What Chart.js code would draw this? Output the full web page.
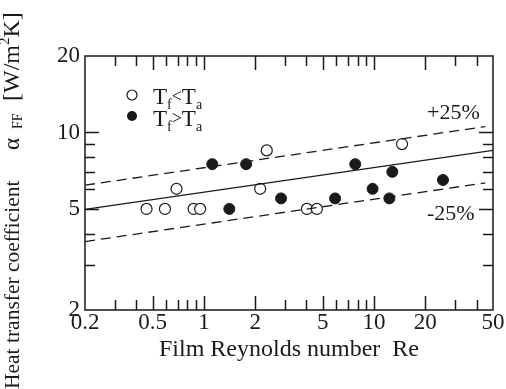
<!DOCTYPE html>
<html>
<head>
<meta charset="utf-8">
<script src="https://cdn.jsdelivr.net/npm/chart.js@4.4.1/dist/chart.umd.min.js"></script>
<style>
  html, body { margin: 0; padding: 0; background: #fff; }
  #wrap { width: 506px; height: 389px; }
</style>
</head>
<body>
<div id="wrap"><canvas id="c" width="506" height="389"></canvas></div>
<script>
// data
var openRe = [0.46, 0.59, 0.69, 0.87, 0.95, 2.14, 2.34, 4.03, 4.61, 14.6];
var openAlpha = [5.0, 5.0, 6.0, 5.0, 5.0, 6.0, 8.5, 5.0, 5.0, 9.0];
var filledRe = [1.12, 1.41, 1.77, 2.84, 5.9, 7.75, 9.8, 12.3, 12.8, 25.4];
var filledAlpha = [7.5, 5.0, 7.5, 5.5, 5.5, 7.5, 6.0, 5.5, 7.0, 6.5];

var fitRe = [0.2, 50];
var fitAlpha = [4.98, 8.5];
var upperRe = [0.2, 45];
var upperAlpha = [6.2, 10.55];
var lowerRe = [0.2, 45];
var lowerAlpha = [3.72, 6.33];

var xTicks = [0.2, 0.3, 0.4, 0.5, 0.6, 0.7, 0.8, 0.9, 1, 2, 3, 4, 5, 6, 7, 8, 9, 10, 20, 30, 40, 50];
var xLabels = [0.2, 0.5, 1, 2, 5, 10, 20, 50];
var yTicks = [2, 3, 4, 5, 6, 7, 8, 9, 10, 20];
var yLabels = [2, 5, 10, 20];

var SERIF = '"Liberation Serif", "DejaVu Serif", serif';
var INK = '#1a1a1a';

function pts(xs, ys) {
  var out = [];
  for (var i = 0; i < xs.length; i++) out.push({ x: xs[i], y: ys[i] });
  return out;
}

// draws text pieces one after another: [text, size, shift]
function drawPieces(ctx, x, y, pieces) {
  for (var i = 0; i < pieces.length; i++) {
    var p = pieces[i];
    ctx.font = p[1] + 'px ' + SERIF;
    ctx.fillText(p[0], x, y + (p[2] || 0));
    x += ctx.measureText(p[0]).width;
  }
  return x;
}

var decorPlugin = {
  id: 'decor',
  afterDraw: function (chart) {
    var ctx = chart.ctx;
    var a = chart.chartArea;
    var xs = chart.scales.x, ys = chart.scales.y;
    ctx.save();
    ctx.strokeStyle = INK;
    ctx.lineWidth = 1.5;

    // inward tick marks on all four sides
    ctx.beginPath();
    xTicks.forEach(function (v) {
      if (v === 0.2 || v === 50) return;
      var px = Math.round(xs.getPixelForValue(v)) + 0.5;
      var len = xLabels.indexOf(v) >= 0 ? 14 : 10;
      ctx.moveTo(px, a.bottom); ctx.lineTo(px, a.bottom - len);
      ctx.moveTo(px, a.top); ctx.lineTo(px, a.top + len);
    });
    yTicks.forEach(function (v) {
      if (v === 2 || v === 20) return;
      var py = Math.round(ys.getPixelForValue(v)) + 0.5;
      var len = yLabels.indexOf(v) >= 0 ? 14 : 10;
      ctx.moveTo(a.left, py); ctx.lineTo(a.left + len, py);
      ctx.moveTo(a.right, py); ctx.lineTo(a.right - len, py);
    });
    ctx.stroke();
    ctx.strokeRect(a.left, a.top, a.right - a.left, a.bottom - a.top);

    ctx.fillStyle = INK;
    ctx.textBaseline = 'alphabetic';
    ctx.textAlign = 'left';

    // legend
    ctx.lineWidth = 1.2;
    ctx.beginPath(); ctx.arc(132, 95, 5, 0, Math.PI * 2);
    ctx.fillStyle = '#fff'; ctx.fill(); ctx.stroke();
    ctx.fillStyle = INK;
    ctx.beginPath(); ctx.arc(132, 116, 5, 0, Math.PI * 2); ctx.fill();
    drawPieces(ctx, 153, 104, [['T', 23], ['f', 14, 5], ['<', 18, -2], ['T', 23], ['a', 14, 5]]);
    drawPieces(ctx, 153, 126, [['T', 23], ['f', 14, 5], ['>', 18, -2], ['T', 23], ['a', 14, 5]]);

    // band labels
    ctx.font = '22px ' + SERIF;
    ctx.fillText('+25%', 427, 119);
    ctx.fillText('-25%', 427, 220);

    // x title
    ctx.font = '24px ' + SERIF;
    ctx.fillText('Film Reynolds number  Re', 159, 356);

    // y title, rotated
    ctx.save();
    ctx.translate(19, 0);
    ctx.rotate(-Math.PI / 2);
    ctx.font = '21.5px ' + SERIF;
    ctx.fillText('Heat transfer coefficient', -389, 0);
    ctx.font = '23px ' + SERIF;
    ctx.fillText('\u03b1', -150, 0);
    ctx.font = '14px ' + SERIF;
    ctx.fillText('FF', -129, 3);
    drawPieces(ctx, -101, 0, [['[W/m', 24], ['2', 15, -10], ['K]', 24]]);
    ctx.restore();

    ctx.restore();
  }
};

var ctx = document.getElementById('c').getContext('2d');
new Chart(ctx, {
  type: 'scatter',
  data: {
    datasets: [
      {
        label: 'fit',
        data: pts(fitRe, fitAlpha),
        showLine: true, borderColor: INK, borderWidth: 1.3, pointRadius: 0
      },
      {
        label: '+25%',
        data: pts(upperRe, upperAlpha),
        showLine: true, borderColor: INK, borderWidth: 1.3, borderDash: [10, 6], pointRadius: 0
      },
      {
        label: '-25%',
        data: pts(lowerRe, lowerAlpha),
        showLine: true, borderColor: INK, borderWidth: 1.3, borderDash: [10, 6], pointRadius: 0
      },
      {
        label: 'Tf<Ta',
        data: pts(openRe, openAlpha),
        pointRadius: 5.5, pointBorderWidth: 1.2,
        pointBackgroundColor: '#fff', pointBorderColor: INK
      },
      {
        label: 'Tf>Ta',
        data: pts(filledRe, filledAlpha),
        pointRadius: 5.5, pointBorderWidth: 1,
        pointBackgroundColor: INK, pointBorderColor: INK
      }
    ]
  },
  options: {
    responsive: false,
    animation: false,
    layout: { padding: { left: 0, right: 13, top: 56, bottom: 0 } },
    plugins: { legend: { display: false }, tooltip: { enabled: false } },
    scales: {
      x: {
        type: 'logarithmic', min: 0.2, max: 50,
        grid: { display: false }, border: { display: false },
        afterBuildTicks: function (s) { s.ticks = xTicks.map(function (v) { return { value: v }; }); },
        afterFit: function (s) { s.height = 79; },
        ticks: {
          autoSkip: false, maxRotation: 0, padding: -9, color: INK,
          font: { family: SERIF, size: 23 },
          callback: function (v) { return xLabels.indexOf(v) >= 0 ? String(v) : ''; }
        }
      },
      y: {
        type: 'logarithmic', min: 2, max: 20,
        grid: { display: false }, border: { display: false },
        afterBuildTicks: function (s) { s.ticks = yTicks.map(function (v) { return { value: v }; }); },
        afterFit: function (s) { s.width = 85; },
        ticks: {
          autoSkip: false, padding: -3, color: INK,
          font: { family: SERIF, size: 23 },
          callback: function (v) { return yLabels.indexOf(v) >= 0 ? String(v) : ''; }
        }
      }
    }
  },
  plugins: [decorPlugin]
});
</script>
</body>
</html>
